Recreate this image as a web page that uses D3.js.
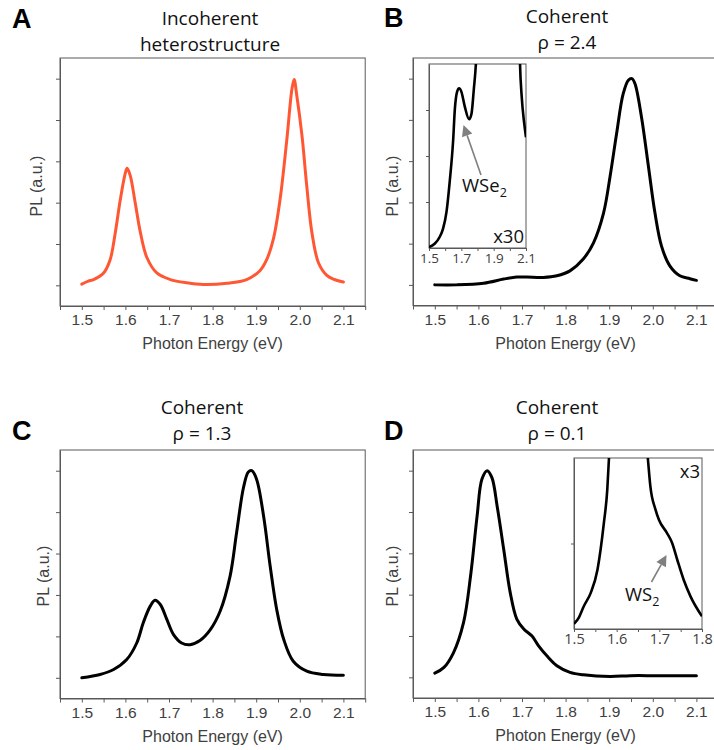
<!DOCTYPE html>
<html>
<head>
<meta charset="utf-8">
<script src="https://cdn.jsdelivr.net/npm/d3@7"></script>
<style>
  html, body { margin: 0; padding: 0; background: #fff; }
  svg { display: block; }
</style>
</head>
<body>
<svg id="chart" width="714" height="750"></svg>
<script>
// ---------------- DATA ----------------
const xTickValues = [1.45, 1.5, 1.55, 1.6, 1.65, 1.7, 1.75, 1.8, 1.85, 1.9, 1.95, 2.0, 2.05, 2.1, 2.15];
const xTickLabels = ["", "1.5", "", "1.6", "", "1.7", "", "1.8", "", "1.9", "", "2.0", "", "2.1", ""];
const yTickValues = [0, 1, 2, 3, 4, 5];

// Panel A: incoherent heterostructure
const aEnergy = [1.5, 1.515, 1.527, 1.55, 1.565, 1.576, 1.588, 1.599, 1.604, 1.611, 1.622, 1.634, 1.649, 1.672, 1.703, 1.741, 1.779, 1.833, 1.878, 1.909, 1.924, 1.94, 1.955, 1.97, 1.982, 1.987, 1.993, 2.005, 2.016, 2.028, 2.043, 2.062, 2.077, 2.1];
const aPL     = [0.03, 0.1, 0.14, 0.3, 0.62, 1.22, 2.05, 2.68, 2.83, 2.66, 2.03, 1.3, 0.68, 0.3, 0.14, 0.06, 0.02, 0.05, 0.14, 0.36, 0.62, 1.15, 2.1, 3.5, 4.75, 4.98, 4.6, 3.62, 2.4, 1.26, 0.54, 0.24, 0.15, 0.08];

// Panel B: coherent rho = 2.4
const bEnergy = [1.5, 1.55, 1.612, 1.658, 1.688, 1.711, 1.749, 1.78, 1.81, 1.84, 1.864, 1.887, 1.902, 1.917, 1.932, 1.944, 1.952, 1.959, 1.974, 1.99, 2.005, 2.02, 2.039, 2.062, 2.085, 2.1];
const bPL     = [0, 0.0, 0.04, 0.14, 0.19, 0.19, 0.18, 0.22, 0.34, 0.62, 1.02, 1.74, 2.63, 3.67, 4.63, 4.96, 5.0, 4.88, 4.07, 2.87, 1.74, 0.94, 0.46, 0.22, 0.15, 0.11];
// Panel B inset (x30)
const bInsetEnergy = [1.5, 1.535, 1.566, 1.587, 1.608, 1.628, 1.649, 1.66, 1.674, 1.686, 1.7, 1.721, 1.748, 1.763, 1.777, 1.79, 1.8, 1.85, 1.9, 1.95, 2.0, 2.04, 2.063, 2.073, 2.088, 2.1];
const bInsetPL     = [0.05, 0.23, 0.6, 1.05, 1.95, 3.6, 5.8, 7.56, 8.5, 8.68, 8.5, 7.7, 7.0, 7.3, 8.6, 10.0, 12, 35, 120, 230, 120, 25, 10.0, 8.28, 6.84, 6.02];
const bInsetTickValues = [1.5, 1.6, 1.7, 1.8, 1.9, 2.0, 2.1];
const bInsetTickLabels = ["1.5", "", "1.7", "", "1.9", "", "2.1"];

// Panel C: coherent rho = 1.3
const cEnergy = [1.5, 1.542, 1.573, 1.603, 1.626, 1.641, 1.657, 1.668, 1.68, 1.695, 1.71, 1.729, 1.748, 1.771, 1.794, 1.817, 1.84, 1.855, 1.871, 1.882, 1.89, 1.901, 1.917, 1.932, 1.947, 1.963, 1.985, 2.016, 2.054, 2.1];
const cPL     = [0, 0.08, 0.2, 0.44, 0.84, 1.33, 1.73, 1.87, 1.77, 1.41, 1.05, 0.84, 0.8, 0.9, 1.15, 1.6, 2.45, 3.5, 4.6, 4.97, 5.0, 4.79, 3.9, 2.7, 1.65, 0.93, 0.4, 0.16, 0.08, 0.06];

// Panel D: coherent rho = 0.1
const dEnergy = [1.5, 1.521, 1.543, 1.566, 1.582, 1.597, 1.608, 1.62, 1.631, 1.643, 1.658, 1.673, 1.688, 1.704, 1.723, 1.738, 1.757, 1.78, 1.81, 1.841, 1.902, 1.948, 2.009, 2.1];
const dPL     = [0.1, 0.24, 0.6, 1.33, 2.45, 3.9, 4.79, 5.0, 4.83, 4.14, 3.1, 2.05, 1.41, 1.17, 1.0, 0.76, 0.52, 0.28, 0.12, 0.06, 0.02, 0.04, 0.04, 0.04];
// Panel D inset (x3)
const dInsetEnergy = [1.5, 1.512, 1.523, 1.539, 1.555, 1.57, 1.578, 1.582, 1.6, 1.62, 1.64, 1.673, 1.679, 1.691, 1.699, 1.718, 1.73, 1.742, 1.757, 1.773, 1.8];
const dInsetPL     = [0.3, 0.7, 1.33, 2.1, 3.47, 6.2, 8.15, 10.0, 22, 26, 20, 10.0, 8.34, 6.98, 6.39, 5.61, 5.03, 4.05, 2.88, 1.91, 0.74];
const dInsetTickValues = [1.5, 1.55, 1.6, 1.65, 1.7, 1.75, 1.8];
const dInsetTickLabels = ["1.5", "", "1.6", "", "1.7", "", "1.8"];

// ---------------- DRAWING ----------------
const svg = d3.select("#chart");
const axisColor = "#595959";
const textColor = "#404040";
const sansAxis = "Arial, 'Liberation Sans', sans-serif";
const titleFont = "'Open Sans', sans-serif";

const panels = [
  { id: "A", energy: aEnergy, pl: aPL, color: "#FF5733", left: 60, top: 58, bottom: 306,
    letter: [12, 28], titles: ["Incoherent", "heterostructure"], titleX: 210, titleY: [25, 51],
    yLabel: [36, 186] },
  { id: "B", energy: bEnergy, pl: bPL, color: "#000", left: 413, top: 58, bottom: 305.5,
    letter: [384, 27], titles: ["Coherent", "ρ = 2.4"], titleX: 567, titleY: [23, 49],
    yLabel: [392, 186] },
  { id: "C", energy: cEnergy, pl: cPL, color: "#000", left: 60, top: 450, bottom: 698.5,
    letter: [12, 440], titles: ["Coherent", "ρ = 1.3"], titleX: 202, titleY: [414, 440],
    yLabel: [43, 576] },
  { id: "D", energy: dEnergy, pl: dPL, color: "#000", left: 413, top: 450, bottom: 698,
    letter: [384, 440], titles: ["Coherent", "ρ = 0.1"], titleX: 557, titleY: [414, 440],
    yLabel: [392, 576] }
];

const pxPerTenth = 43.6;

panels.forEach(p => {
  const g = svg.append("g");
  const x = d3.scaleLinear().domain([1.45, 2.15]).range([p.left, p.left + 7 * pxPerTenth]);
  const y = d3.scaleLinear().domain([-0.5, 5.5]).range([p.bottom, p.top]);

  // frame
  g.append("rect")
    .attr("x", x.range()[0]).attr("y", p.top)
    .attr("width", x.range()[1] - x.range()[0]).attr("height", p.bottom - p.top)
    .attr("fill", "none").attr("stroke", axisColor).attr("stroke-width", 1);

  // x axis
  const xa = g.append("g").attr("transform", `translate(0,${p.bottom})`)
    .call(d3.axisBottom(x).tickValues(xTickValues)
      .tickFormat((d, i) => xTickLabels[i]).tickSize(4).tickSizeOuter(0).tickPadding(4));
  xa.select(".domain").attr("stroke", axisColor);
  xa.selectAll(".tick line").attr("stroke", axisColor);
  xa.selectAll(".tick text").attr("fill", textColor)
    .style("font-family", sansAxis).style("font-size", "15.5px");

  // y axis
  const ya = g.append("g").attr("transform", `translate(${p.left},0)`)
    .call(d3.axisLeft(y).tickValues(yTickValues).tickFormat("").tickSize(4).tickSizeOuter(0));
  ya.select(".domain").attr("stroke", axisColor);
  ya.selectAll(".tick line").attr("stroke", axisColor);

  // axis titles
  g.append("text")
    .attr("x", (x(1.5) + x(2.1)) / 2)
    .attr("y", p.bottom + 43)
    .attr("text-anchor", "middle")
    .attr("fill", textColor)
    .style("font-family", sansAxis).style("font-size", "16px")
    .text("Photon Energy (eV)");

  g.append("text")
    .attr("transform", `translate(${p.yLabel[0]},${p.yLabel[1]}) rotate(-90)`)
    .attr("text-anchor", "middle")
    .attr("dominant-baseline", "central")
    .attr("fill", textColor)
    .style("font-family", sansAxis).style("font-size", "16px")
    .text("PL (a.u.)");

  // curve
  const line = d3.line()
    .x((d, i) => x(p.energy[i]))
    .y((d, i) => y(p.pl[i]))
    .curve(d3.curveCatmullRom.alpha(0.5));
  g.append("path").datum(p.pl)
    .attr("d", line)
    .attr("fill", "none").attr("stroke", p.color)
    .attr("stroke-width", 3).attr("stroke-linejoin", "round").attr("stroke-linecap", "round");

  // panel letter
  g.append("text").attr("x", p.letter[0]).attr("y", p.letter[1])
    .style("font-family", sansAxis).style("font-weight", "bold").style("font-size", "27px")
    .attr("fill", "#000").text(p.id);

  // titles
  p.titles.forEach((t, i) => {
    g.append("text").attr("x", p.titleX).attr("y", p.titleY[i])
      .attr("text-anchor", "middle")
      .style("font-family", titleFont).style("font-size", "19px")
      .attr("fill", "#111").text(t);
  });
});

// -------- Insets --------
function drawInset(cfg) {
  const g = svg.append("g");
  const x = d3.scaleLinear().domain(cfg.xDomain).range([cfg.left, cfg.right]);
  const y = d3.scaleLinear().domain([0, 10]).range([cfg.bottom, cfg.top]);
  g.append("rect").attr("x", cfg.left).attr("y", cfg.top)
    .attr("width", cfg.right - cfg.left).attr("height", cfg.bottom - cfg.top)
    .attr("fill", "#fff").attr("stroke", axisColor).attr("stroke-width", 1);

  const clipId = "clip" + cfg.id;
  g.append("clipPath").attr("id", clipId).append("rect")
    .attr("x", cfg.left).attr("y", cfg.top)
    .attr("width", cfg.right - cfg.left).attr("height", cfg.bottom - cfg.top);

  const xa = g.append("g").attr("transform", `translate(0,${cfg.bottom})`)
    .call(d3.axisBottom(x).tickValues(cfg.tickValues)
      .tickFormat((d, i) => cfg.tickLabels[i]).tickSize(3).tickSizeOuter(0).tickPadding(2));
  xa.select(".domain").attr("stroke", axisColor);
  xa.selectAll(".tick line").attr("stroke", axisColor);
  xa.selectAll(".tick text").attr("fill", textColor)
    .style("font-family", titleFont).style("font-size", cfg.labelSize);

  const ya = g.append("g").attr("transform", `translate(${cfg.left},0)`)
    .call(d3.axisLeft(y).tickValues(cfg.yTicks).tickFormat("").tickSize(3).tickSizeOuter(0));
  ya.select(".domain").attr("stroke", axisColor);
  ya.selectAll(".tick line").attr("stroke", axisColor);

  const line = d3.line()
    .x((d, i) => x(cfg.energy[i]))
    .y((d, i) => y(cfg.pl[i]))
    .curve(d3.curveMonotoneX);
  g.append("path").datum(cfg.pl)
    .attr("clip-path", `url(#${clipId})`)
    .attr("d", line)
    .attr("fill", "none").attr("stroke", "#000")
    .attr("stroke-width", 2.6).attr("stroke-linejoin", "round");

  // multiplier label
  g.append("text").attr("x", cfg.multPos[0]).attr("y", cfg.multPos[1])
    .attr("text-anchor", "end")
    .style("font-family", titleFont).style("font-size", "18.5px")
    .attr("fill", "#111").text(cfg.mult);

  // species label with subscript
  const t = g.append("text").attr("x", cfg.labelPos[0]).attr("y", cfg.labelPos[1])
    .style("font-family", titleFont).style("font-size", "18.5px").attr("fill", "#111");
  t.append("tspan").text(cfg.species);
  t.append("tspan").attr("dy", 5).style("font-size", "12.5px").text("2");

  // arrow
  const [x1, y1] = cfg.arrowTail, [x2, y2] = cfg.arrowTip;
  const ang = Math.atan2(y2 - y1, x2 - x1);
  const hl = 11, hw = 5.5;
  const bx = x2 - hl * Math.cos(ang), by = y2 - hl * Math.sin(ang);
  g.append("line").attr("x1", x1).attr("y1", y1).attr("x2", bx).attr("y2", by)
    .attr("stroke", "#808080").attr("stroke-width", 1.6);
  const px = -Math.sin(ang) * hw, py = Math.cos(ang) * hw;
  g.append("path")
    .attr("d", `M${x2},${y2}L${bx + px},${by + py}L${bx - px},${by - py}Z`)
    .attr("fill", "#808080");
}

drawInset({
  id: "B", energy: bInsetEnergy, pl: bInsetPL, xDomain: [1.5, 2.1],
  left: 429, right: 526, top: 64, bottom: 248,
  tickValues: bInsetTickValues, tickLabels: bInsetTickLabels, labelSize: "13.5px",
  yTicks: [2.5, 5, 7.5],
  mult: "x30", multPos: [524, 243],
  species: "WSe", labelPos: [462, 192],
  arrowTail: [481, 175], arrowTip: [463.5, 125]
});

drawInset({
  id: "D", energy: dInsetEnergy, pl: dInsetPL, xDomain: [1.5, 1.8],
  left: 574, right: 702, top: 458, bottom: 629,
  tickValues: dInsetTickValues, tickLabels: dInsetTickLabels, labelSize: "14.5px",
  yTicks: [5],
  mult: "x3", multPos: [700, 478],
  species: "WS", labelPos: [625, 601],
  arrowTail: [651.5, 582], arrowTip: [666.5, 555]
});
</script>
</body>
</html>
